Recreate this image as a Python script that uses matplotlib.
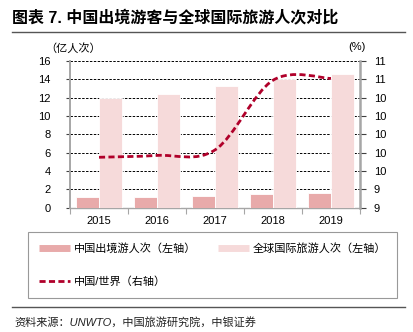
import matplotlib
matplotlib.use("Agg")
import matplotlib.pyplot as plt
import numpy as np
from matplotlib.lines import Line2D
from matplotlib.patches import PathPatch
from matplotlib.path import Path

plt.rcParams["font.family"] = ["Liberation Sans", "Noto Sans CJK SC"]

YEARS = ["2015", "2016", "2017", "2018", "2019"]
CHINA_OUTBOUND = [1.17, 1.22, 1.31, 1.49, 1.55]      # 亿人次
WORLD_TRAVEL = [11.95, 12.45, 13.25, 14.0, 14.6]     # 亿人次
CHINA_SHARE = [9.75, 9.77, 9.83, 10.59, 10.61]       # %
LEFT_TICKS = [0, 2, 4, 6, 8, 10, 12, 14, 16]
RIGHT_TICKS = [9.2, 9.4, 9.6, 9.8, 10.0, 10.2, 10.4, 10.6, 10.8]
RIGHT_TICK_LABELS = ["9", "9", "10", "10", "10", "10", "10", "11", "11"]

DARK = "#E8AAAA"
LIGHT = "#F6DADA"
LINE = "#B0002A"
AXIS_GRAY = "#A6A6A6"


def smooth_path(xs, ys):
    # cubic bezier segments (like Excel's smoothed line)
    pts = np.column_stack([xs, ys]).astype(float)
    n = len(pts)
    verts = [pts[0]]
    codes = [Path.MOVETO]
    for i in range(n - 1):
        p0 = pts[i - 1] if i > 0 else pts[i]
        p1, p2 = pts[i], pts[i + 1]
        p3 = pts[i + 2] if i + 2 < n else pts[i + 1]
        c1 = p1 + (p2 - p0) / 6
        c2 = p2 - (p3 - p1) / 6
        verts += [c1, c2, p2]
        codes += [Path.CURVE4] * 3
    return Path(verts, codes)


fig = plt.figure(figsize=(4.13, 3.32), dpi=100)
ax = fig.add_axes([70 / 413, 1 - 207.7 / 332, 290 / 413, 146.7 / 332])
ax2 = ax.twinx()

x = np.arange(len(YEARS))
w = 0.39
ax.bar(x - w / 2, CHINA_OUTBOUND, width=w, color=DARK, edgecolor="white", linewidth=0.6, zorder=3)
ax.bar(x + w / 2, WORLD_TRAVEL, width=w, color=LIGHT, edgecolor="white", linewidth=0.6, zorder=3)

ax.set_xlim(-0.5, len(YEARS) - 0.5)
ax.set_ylim(0, 16)
ax.set_yticks(LEFT_TICKS)
ax.set_xticks(x)
ax.set_xticklabels(YEARS)
ax.set_xticks(np.arange(-0.5, len(YEARS)), minor=True)
ax.tick_params(axis="x", which="major", length=0, pad=6, labelsize=8)
ax.tick_params(axis="x", which="minor", length=4, width=0.8, color=AXIS_GRAY, direction="out")
ax.tick_params(axis="y", length=3, width=0.8, color="#404040", pad=11, labelsize=8)
ax.yaxis.grid(True, color="black", linestyle=(0, (2.5, 1.5)), linewidth=0.7, zorder=0)
ax.set_axisbelow(True)

for s in ["top", "right"]:
    ax.spines[s].set_visible(False)
ax.spines["left"].set_color(AXIS_GRAY)
ax.spines["left"].set_linewidth(1.4)
ax.spines["bottom"].set_color(AXIS_GRAY)
ax.spines["bottom"].set_linewidth(1.0)

ax2.set_ylim(RIGHT_TICKS[0], RIGHT_TICKS[-1])
ax2.set_yticks(RIGHT_TICKS)
ax2.set_yticklabels(RIGHT_TICK_LABELS)
ax2.tick_params(axis="y", length=4, width=0.8, color="#404040", pad=6, labelsize=8)
for s in ["top", "left", "bottom"]:
    ax2.spines[s].set_visible(False)
ax2.spines["right"].set_color(AXIS_GRAY)
ax2.spines["right"].set_linewidth(1.8)

patch = PathPatch(smooth_path(x, CHINA_SHARE), transform=ax2.transData, fill=False,
                  edgecolor=LINE, linewidth=2.0, linestyle=(0, (2.2, 1.2)), zorder=4)
ax2.add_patch(patch)

fig.text(12 / 413, 1 - 18 / 332, "图表 7. 中国出境游客与全球国际旅游人次对比",
         fontsize=11.5, fontweight="bold", va="center", ha="left")
fig.add_artist(Line2D([12 / 413, 405 / 413], [1 - 32 / 332] * 2, color="#555555", linewidth=1.0))
fig.text(45 / 413, 1 - 48 / 332, "（亿人次）", fontsize=8, va="center", ha="left")
fig.text(357 / 413, 1 - 47 / 332, "(%)", fontsize=8, va="center", ha="center")

# column-wise fill: col 1 = outbound, share; col 2 = world
handles = [
    Line2D([], [], color=DARK, linewidth=5, solid_capstyle="butt"),
    Line2D([], [], color=LINE, linewidth=2, linestyle=(0, (2.2, 1.2))),
    Line2D([], [], color=LIGHT, linewidth=5, solid_capstyle="butt"),
]
labels = ["中国出境游人次（左轴）", "中国/世界（右轴）", "全球国际旅游人次（左轴）"]
leg = fig.legend(handles, labels, loc="upper left",
                 bbox_to_anchor=(28 / 413, 1 - 300 / 332, 369 / 413, 68 / 332),
                 mode="expand", ncol=2, fontsize=8, frameon=True, fancybox=False,
                 handlelength=2.8, handletextpad=0.3, borderpad=1.0, labelspacing=2.0,
                 columnspacing=2.0, borderaxespad=0)
leg.get_frame().set_edgecolor("#808080")
leg.get_frame().set_linewidth(0.8)

fig.add_artist(Line2D([12 / 413, 405 / 413], [1 - 307 / 332] * 2, color="#555555", linewidth=1.0))
fig.text(14 / 413, 1 - 322 / 332, "资料来源：UNWTO，中国旅游研究院，中银证券",
         fontsize=8, style="italic", va="center", ha="left", color="#222222")

fig.savefig("out.png", dpi=100)
